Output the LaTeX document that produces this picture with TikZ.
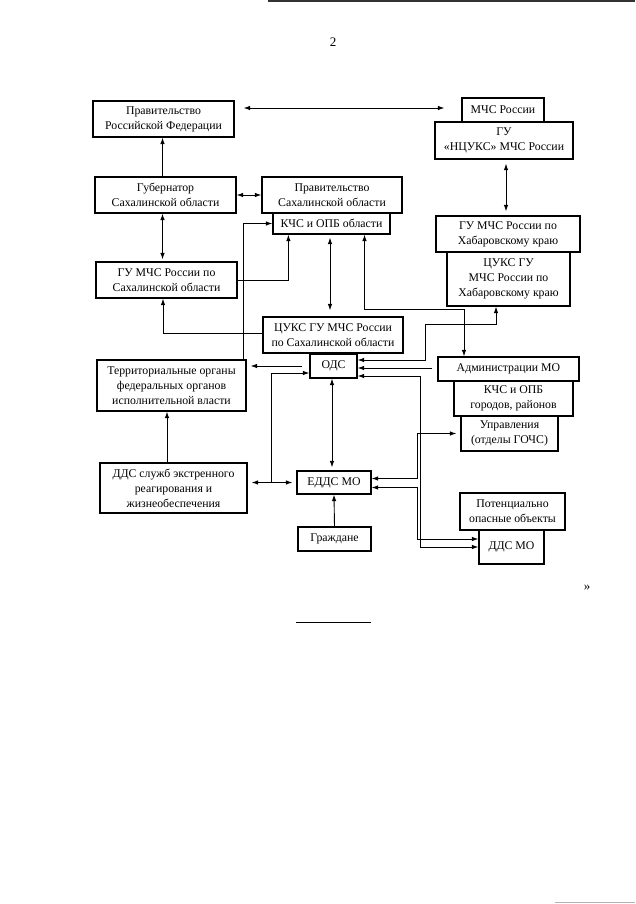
\documentclass[tikz,border=0pt]{standalone}
\usepackage{fontspec}
\setmainfont{Liberation Serif}
\usetikzlibrary{arrows.meta}
\tikzset{
        box/.style={draw=black, line width=1.2pt, align=center, inner sep=0pt, font=\fontsize{11.8}{15}\selectfont},
        link/.style={line width=0.9pt, -{Latex[length=6.5pt,width=4.5pt]}},
        dlink/.style={line width=0.9pt, {Latex[length=6.5pt,width=4.5pt]}-{Latex[length=6.5pt,width=4.5pt]}},
        size/.style 2 args={minimum width=#1pt, minimum height=#2pt}
          }
\begin{document}
\begin{tikzpicture}[x=1pt, y=-1pt]
        \useasboundingbox (0,0) rectangle (635,904);
        % page marks
        \draw[line width=2pt, black!80] (268,1) -- (635,1);
        \draw[line width=1pt, black!30] (555,902) -- (635,902);
        \node[font=\fontsize{13}{15}\selectfont] (pagenum) at (333,42) {2};
        \node[font=\fontsize{13}{15}\selectfont] (quote) at (587,588) {»};
        \draw[line width=0.8pt] (296,622) -- (371,622);
        % left column
        \node[box, size={141}{36}] (govrf) at (163.5,119) {Правительство\\Российской Федерации};
        \node[box, size={141}{36}] (governor) at (165.5,195) {Губернатор\\Сахалинской области};
        \node[box, size={141}{36}] (gusakh) at (166.5,280) {ГУ МЧС России по\\Сахалинской области};
        \node[box, size={149}{51}] (terr) at (171.5,385.5) {Территориальные органы\\федеральных органов\\исполнительной власти};
        \node[box, size={147}{50}] (ddssl) at (173.5,488) {ДДС служб экстренного\\реагирования и\\жизнеобеспечения};
        % middle column
        \node[box, size={140}{36}] (govsakh) at (332,195) {Правительство\\Сахалинской области};
        \node[box, size={117}{21}] (kchsobl) at (331.5,223.5) {КЧС и ОПБ области};
        \node[box, size={140}{36}] (cukssakh) at (333,335) {ЦУКС ГУ МЧС России\\по Сахалинской области};
        \node[box, size={47}{24}] (ods) at (333.5,366) {ОДС};
        \node[box, size={74}{23}] (edds) at (334,482.5) {ЕДДС МО};
        \node[box, size={73}{24}] (grazh) at (334.5,539) {Граждане};
        % right column
        \node[box, size={82}{24}] (mchs) at (503,110) {МЧС России};
        \node[box, size={138}{37}] (ncuks) at (504,140.5) {ГУ\\«НЦУКС» МЧС России};
        \node[box, size={144}{36}] (gukhab) at (508,234) {ГУ МЧС России по\\Хабаровскому краю};
        \node[box, size={123}{54}] (cukskhab) at (508.5,279) {ЦУКС ГУ\\МЧС России по\\Хабаровскому краю};
        \node[box, size={141}{24}] (admin) at (508.5,369) {Администрации МО};
        \node[box, size={119}{35}] (kchsgor) at (513.5,398.5) {КЧС и ОПБ\\городов, районов};
        \node[box, size={97}{35}] (upr) at (509.5,433.5) {Управления\\(отделы ГОЧС)};
        \node[box, size={105}{37}] (pot) at (512.5,511.5) {Потенциально\\опасные объекты};
        \node[box, size={65}{34}] (ddsmo) at (511.5,547) {ДДС МО};
        % connectors
        \coordinate (mchsin) at ([yshift=2pt]mchs.west);
        \draw[dlink, shorten <=9pt, shorten >=17pt] (govrf.east |- mchsin) -- (mchsin);
        \draw[link] ([xshift=-3pt]governor.north) -- ([xshift=-3pt]governor.north |- govrf.south);
        \draw[dlink] (governor.east) -- (govsakh.west);
        \draw[dlink, shorten >=2pt] ([xshift=-3pt]governor.south) -- ([xshift=-3pt]governor.south |- gusakh.north);
        \draw[link] (gusakh.east) -| ([xshift=16pt]kchsobl.south west);
        \draw[link] ([xshift=-3pt]terr.north east) |- (kchsobl.west);
        \draw[dlink, shorten <=3pt, shorten >=6pt] ([xshift=-1.5pt]kchsobl.south) -- ([xshift=-1.5pt]kchsobl.south |- cukssakh.north);
        \draw[dlink] ([xshift=33pt]kchsobl.south) -- ++(0,75) -| ([xshift=-44.5pt]admin.north);
        \draw[link] ([yshift=2pt]cukssakh.west) -| ([xshift=-3.5pt]gusakh.south);
        \draw[link, shorten <=7pt, shorten >=4pt] (ods.west) -- (ods.west -| terr.east);
        \draw[dlink, shorten <=4pt, shorten >=4pt] (edds.west -| ddssl.east) -- (edds.west);
        \coordinate (ddsjoin) at (271,482.5);
        \draw[link] (ddsjoin) |- ([yshift=-7pt]ods.west);
        \draw[dlink, shorten >=3pt] ([xshift=-1.5pt]ods.south) -- ([xshift=-1.5pt]ods.south |- edds.north);
        \draw[link] (grazh.north) -- (edds.south);
        \draw[link] ([xshift=-6.5pt]ddssl.north) -- ([xshift=-6.5pt]ddssl.north |- terr.south);
        \draw[dlink, shorten <=4pt, shorten >=4pt] ([xshift=2pt]ncuks.south) -- ([xshift=2pt]ncuks.south |- gukhab.north);
        \draw[dlink] ([xshift=-12.5pt]cukskhab.south) -- ++(0,18) -- ++(-71,0) |- ([yshift=6pt]ods.east);
        \draw[link, shorten <=5pt] ([yshift=1pt]admin.west) -- ([yshift=1pt]admin.west -| ods.east);
        \draw[dlink] ([yshift=-10pt]ods.east) -- ++(63,0) |- (ddsmo.west);
        \draw[dlink, shorten >=4pt] ([yshift=4pt]edds.east) -- ++(46,0) |- (upr.west);
        \draw[dlink] ([yshift=-5pt]edds.east) -- ++(46,0) |- ([yshift=8pt]ddsmo.west);
\end{tikzpicture}
\end{document}
